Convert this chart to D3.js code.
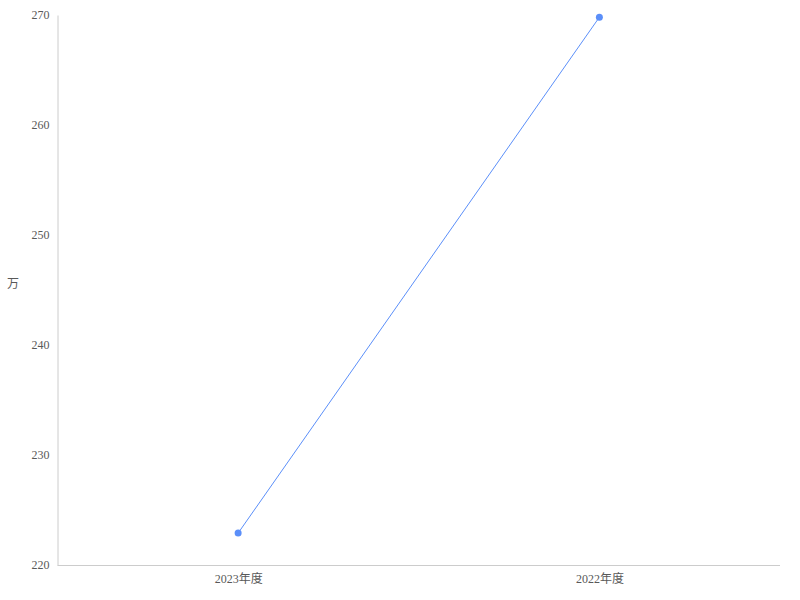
<!DOCTYPE html>
<html><head><meta charset="utf-8">
<script src="https://cdn.jsdelivr.net/npm/d3@7"></script>
<style>body{margin:0;background:#fff}</style>
</head><body>
<svg id="c" width="800" height="600"></svg>
<script>
const categories = ["2023年度", "2022年度"];
const values = [222.9, 269.8];
const yTicks = [220, 230, 240, 250, 260, 270];
const yUnit = "万";

const svg = d3.select("#c");
const m = {left: 57.5, right: 20, top: 15, bottom: 35};
const W = 800, H = 600;
const x = d3.scalePoint().domain(categories).range([m.left, W - m.right]).padding(0.5);
const y = d3.scaleLinear().domain([220, 270]).range([H - m.bottom, m.top]);
const font = "'Liberation Serif', 'Noto Sans CJK SC', serif";

const gy = svg.append("g").attr("transform", `translate(${m.left},0)`)
  .call(d3.axisLeft(y).tickValues(yTicks).tickSize(0).tickPadding(8));
gy.select(".domain").attr("stroke", "#ccc");
gy.selectAll("text").attr("fill", "#595959").style("font-family", font).style("font-size", "12px")
  .attr("dy", "3.5");

const gx = svg.append("g").attr("transform", `translate(0,${H - m.bottom})`)
  .call(d3.axisBottom(x).tickSize(0).tickPadding(8));
gx.select(".domain").attr("stroke", "#ccc").attr("d", `M${m.left},0.5H${W - m.right}`);
gx.selectAll("text").attr("fill", "#595959").style("font-family", font).style("font-size", "12px")
  .attr("dy", "0.8em");

svg.append("text").attr("x", 13).attr("y", 288).attr("text-anchor", "middle")
  .attr("fill", "#595959").style("font-family", "'Noto Sans CJK SC', sans-serif").style("font-size", "12px").text(yUnit);

const line = d3.line().x((d, i) => x(categories[i])).y(d => y(d));
svg.append("path").datum(values).attr("d", line).attr("fill", "none")
  .attr("stroke", "#5B8FF9").attr("stroke-width", 1);
svg.selectAll("circle.pt").data(values).join("circle").attr("class", "pt")
  .attr("cx", (d, i) => x(categories[i])).attr("cy", d => y(d)).attr("r", 3.5)
  .attr("fill", "#5B8FF9");
</script>
</body></html>
